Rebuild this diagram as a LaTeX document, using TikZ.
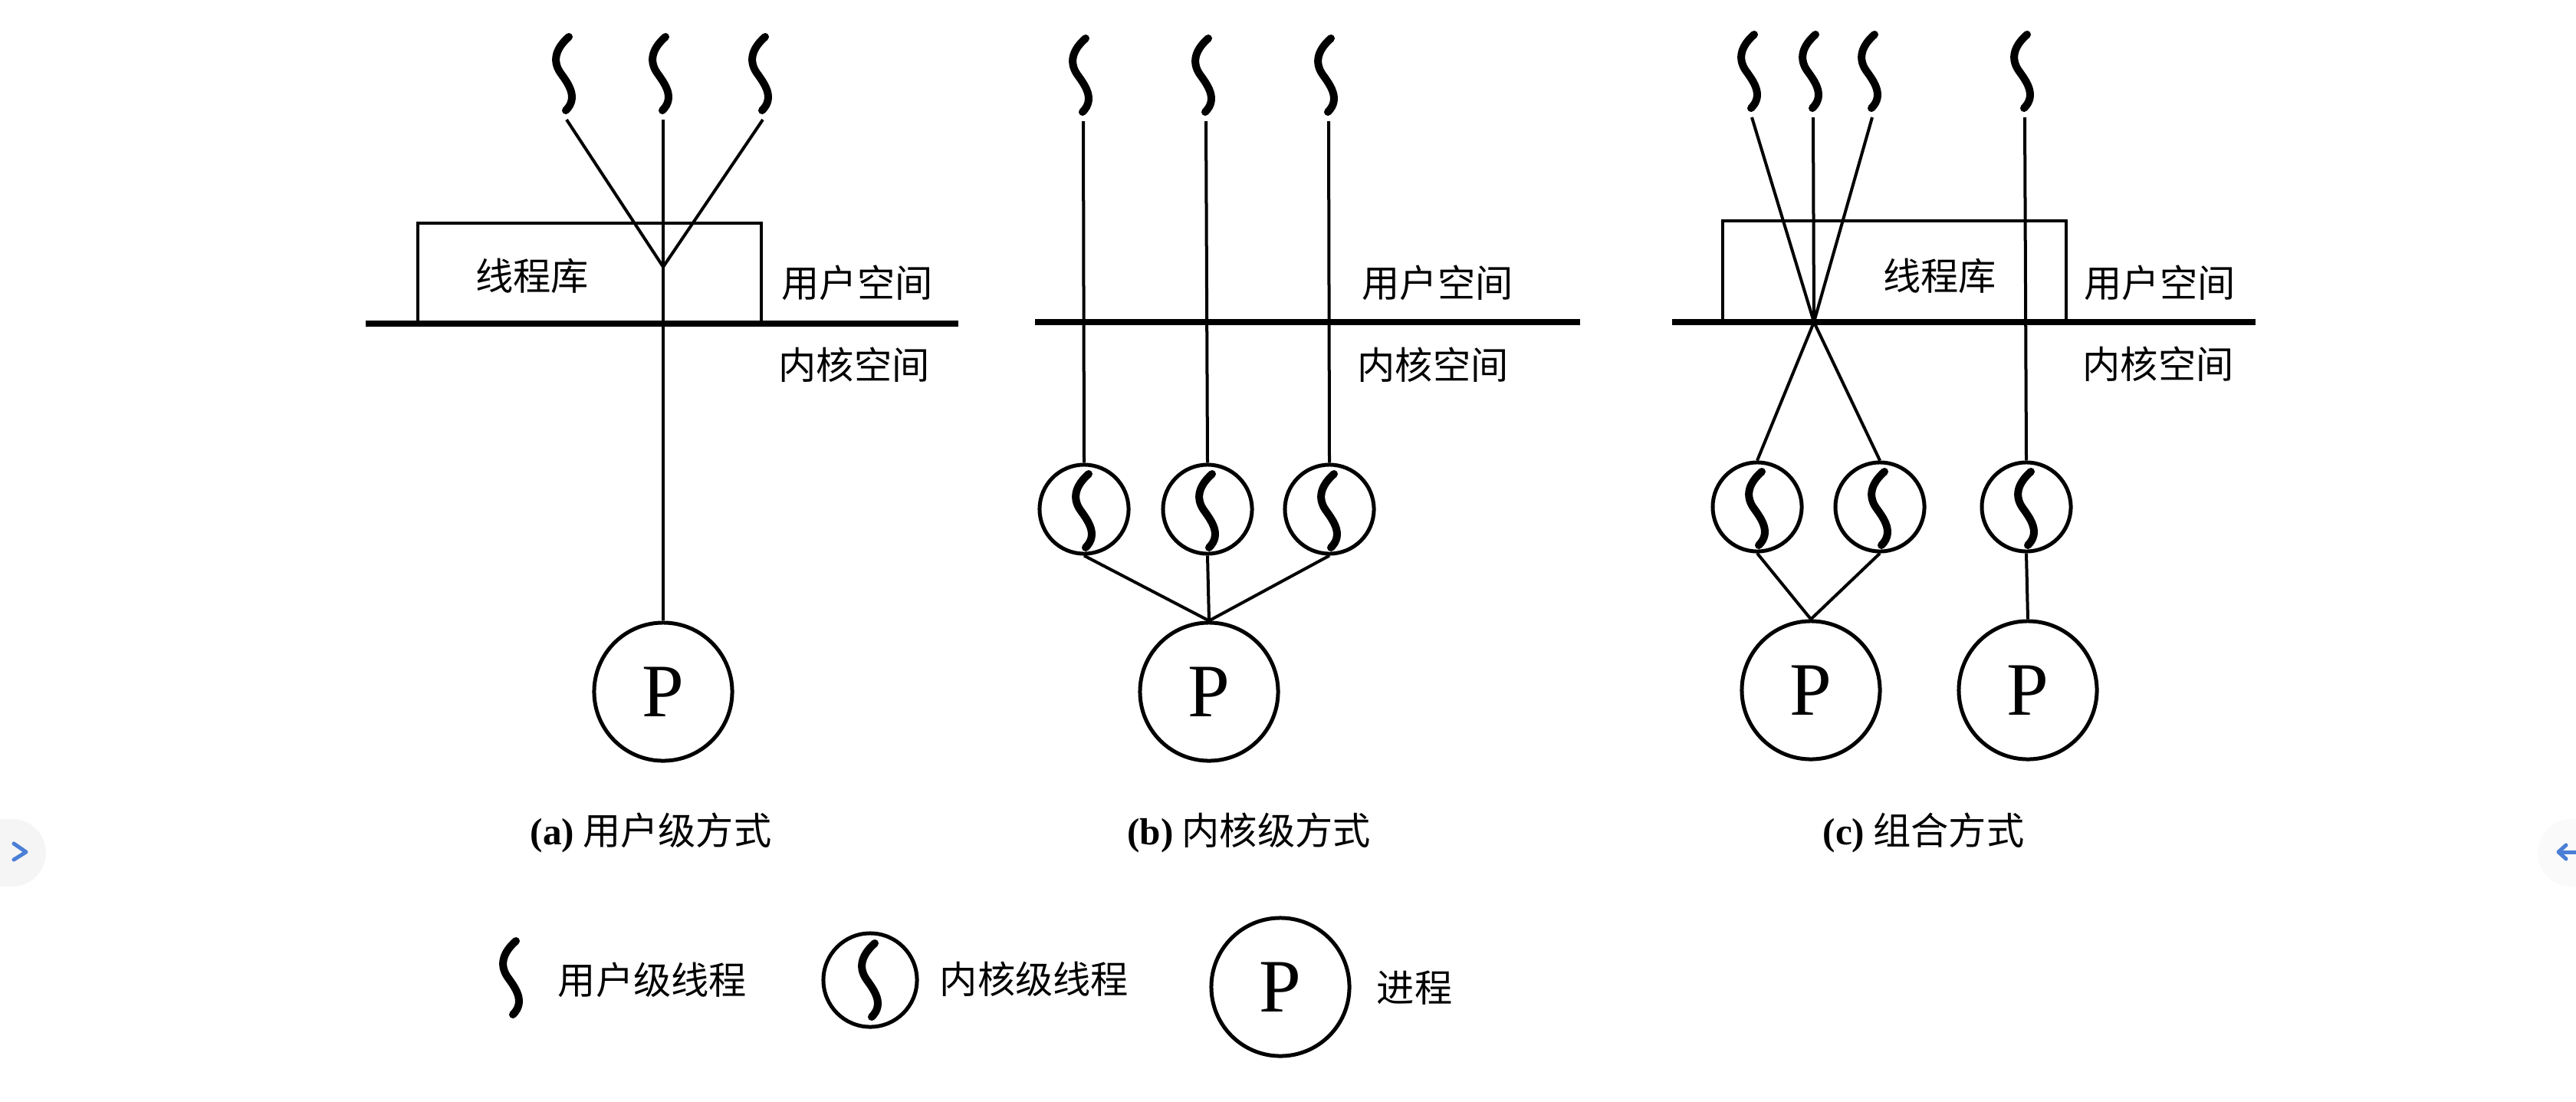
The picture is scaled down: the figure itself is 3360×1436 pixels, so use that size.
\documentclass[tikz,border=0pt]{standalone}
\usepackage{fontspec}
\setmainfont{Liberation Serif}
\newfontfamily\cjk{Noto Sans CJK SC}
\definecolor{uiblue}{HTML}{4A7FD6}
\definecolor{uileft}{HTML}{F5F5F6}
\definecolor{uiright}{HTML}{FAFAFA}
\tikzset{
  thinline/.style={line width=0.04cm},
  spaceline/.style={line width=0.08cm},
  libbox/.style={draw, line width=0.04cm, minimum width=4.48cm, minimum height=1.32cm, inner sep=0pt},
  zhlabel/.style={font=\cjk\fontsize{14}{14}\selectfont, inner sep=0pt},
  proc/.style={draw, circle, line width=0.05cm, minimum size=1.8cm, inner sep=0pt, font=\fontsize{28}{28}\selectfont},
  kthread/.style={draw, circle, line width=0.05cm, minimum size=1.16cm, inner sep=0pt},
  uimark/.style={uiblue, line width=0.05cm, line cap=round, line join=round},
  uthread/.pic={
    \draw[line width=0.1cm, line cap=round] (3,5)
      .. controls (-14,20) and (-19,36) .. (-8,52)
      .. controls (2,66) and (16,84) .. (-1,101);
    \coordinate (-tail) at (0,113);
  }
}
\newcommand{\capmark}[1]{{\rmfamily\bfseries #1}}
\begin{document}
\begin{tikzpicture}[x=0.01cm, y=-0.01cm]
\useasboundingbox (0,0) rectangle (3360,1436);

% browser buttons at the page edges
\fill[uileft] (0,1068) -- (16,1068) arc[start angle=90, end angle=-90, x radius=44, y radius=-44] -- (0,1156) -- cycle;
\fill[uiright] (3360,1068) -- (3354,1068) arc[start angle=90, end angle=270, x radius=44, y radius=-44] -- (3360,1156) -- cycle;
\draw[uimark] (18,1100) -- (34,1111) -- (18,1121);
\draw[uimark] (3347,1102) -- (3337,1111) -- (3347,1120);
\draw[uimark, line cap=butt] (3337,1111) -- (3360,1111);

% (a)
\node[libbox] (liba) at (769,357) {};
\node[zhlabel] (libtexta) at (694,360) {线程库};
\node[zhlabel] (usera) at (1118,369) {用户空间};
\node[zhlabel] (kernela) at (1114,476) {内核空间};
\coordinate (spacela) at (477,422);
\coordinate (spacera) at (1250,422);
\draw[spaceline] (spacela) -- (spacera);
\pic (ta1) at (739,43) {uthread};
\pic (ta2) at (865,43) {uthread};
\pic (ta3) at (995,43) {uthread};
\coordinate (joina) at (865,348);
\node[proc] (pa) at (865,902) {P};
\draw[thinline] (ta1-tail) -- (joina);
\draw[thinline] (ta3-tail) -- (joina);
\draw[thinline] (ta2-tail) -- (pa.north);
\node[zhlabel] (capa) at (849,1086) {\capmark{(a)} 用户级方式};

% (b)
\node[zhlabel] (userb) at (1875,369) {用户空间};
\node[zhlabel] (kernelb) at (1869,476) {内核空间};
\coordinate (spacelb) at (1350,420);
\coordinate (spacerb) at (2061,420);
\draw[spaceline] (spacelb) -- (spacerb);
\node[proc] (pb) at (1577,902) {P};
\foreach \i/\tx/\kx in {1/1413/1414, 2/1573/1575, 3/1733/1734} {
  \pic (tb\i) at (\tx,45) {uthread};
  \node[kthread] (kb\i) at (\kx,664) {};
  \pic[shift={(3,-51)}] at (kb\i) {uthread};
  \draw[thinline] (tb\i-tail) -- (kb\i.north);
  \draw[thinline] (kb\i.south) -- (pb.north);
}
\node[zhlabel] (capb) at (1629,1086) {\capmark{(b)} 内核级方式};

% (c)
\node[libbox] (libc) at (2471,354) {};
\node[zhlabel] (libtextc) at (2530,360) {线程库};
\node[zhlabel] (userc) at (2817,369) {用户空间};
\node[zhlabel] (kernelc) at (2815,475) {内核空间};
\coordinate (spacelc) at (2181,420);
\coordinate (spacerc) at (2942,420);
\draw[spaceline] (spacelc) -- (spacerc);
\pic (tc1) at (2285,40) {uthread};
\pic (tc2) at (2365,40) {uthread};
\pic (tc3) at (2442,40) {uthread};
\pic (tc4) at (2641,40) {uthread};
\coordinate (crossc) at (2366,420);
\node[kthread] (kc1) at (2292,661) {};
\node[kthread] (kc2) at (2452,661) {};
\node[kthread] (kc3) at (2643,661) {};
\foreach \i in {1,2,3} {
  \pic[shift={(3,-51)}] at (kc\i) {uthread};
}
\node[proc] (pc1) at (2362,900) {P};
\node[proc] (pc2) at (2645,900) {P};
\draw[thinline] (tc1-tail) -- (crossc);
\draw[thinline] (tc2-tail) -- (crossc);
\draw[thinline] (tc3-tail) -- (crossc);
\draw[thinline] (crossc) -- (kc1.north);
\draw[thinline] (crossc) -- (kc2.north);
\draw[thinline] (tc4-tail) -- (kc3.north);
\draw[thinline] (kc1.south) -- (pc1.north);
\draw[thinline] (kc2.south) -- (pc1.north);
\draw[thinline] (kc3.south) -- (pc2.north);
\node[zhlabel] (capc) at (2509,1086) {\capmark{(c)} 组合方式};

% legend
\pic (tkey) at (670,1222) {uthread};
\node[zhlabel] (tkeytext) at (851,1278) {用户级线程};
\node[kthread, minimum size=1.22cm] (kkey) at (1135,1278) {};
\pic[shift={(3,-53)}] at (kkey) {uthread};
\node[zhlabel] (kkeytext) at (1349,1277) {内核级线程};
\node[proc] (pkey) at (1670,1287) {P};
\node[zhlabel] (pkeytext) at (1845,1288) {进程};
\end{tikzpicture}
\end{document}
